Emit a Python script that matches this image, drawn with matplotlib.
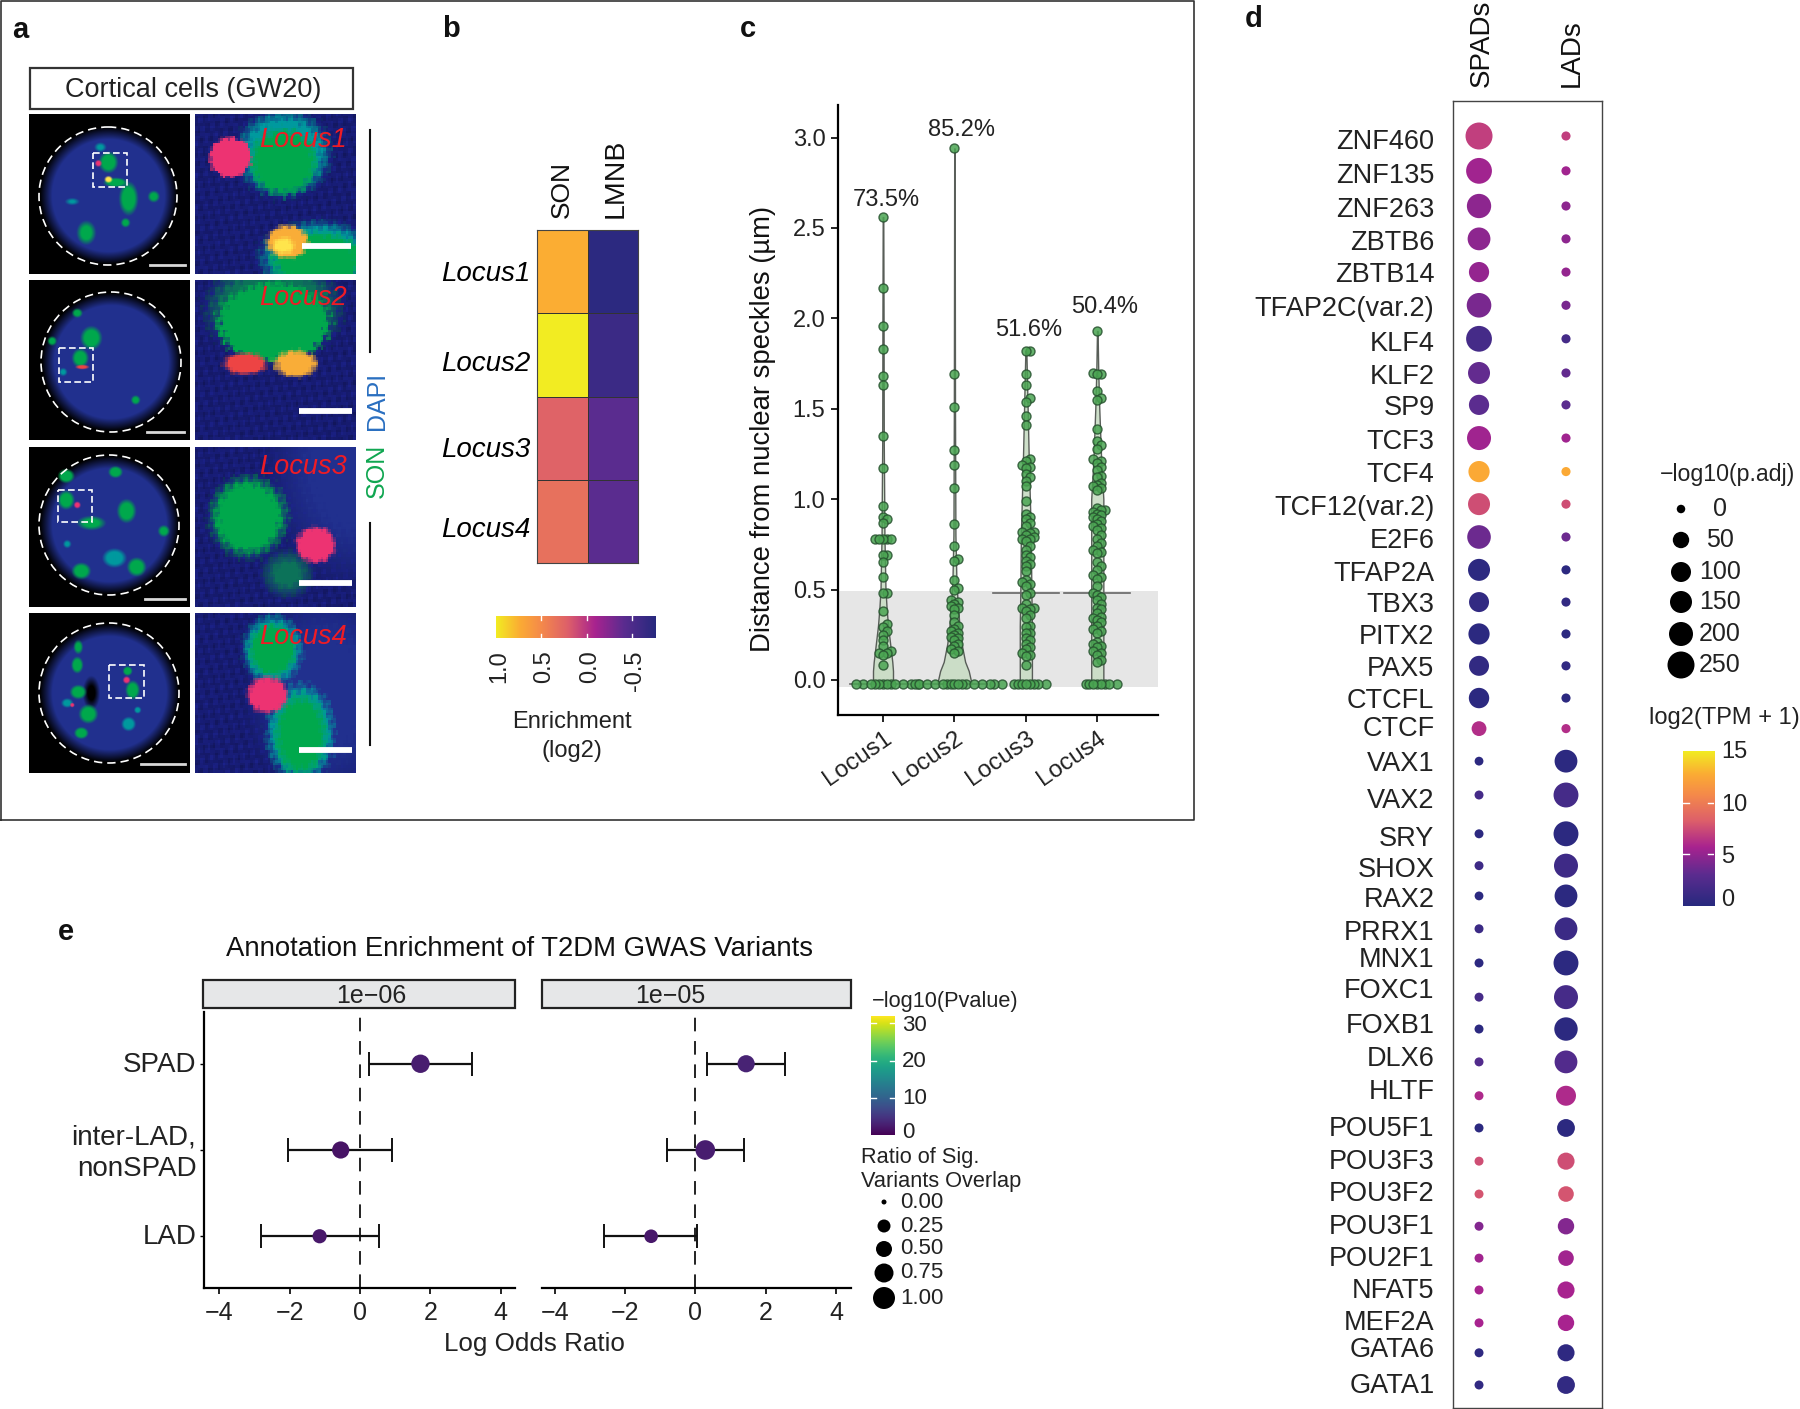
import numpy as np
import matplotlib
matplotlib.use('Agg')
import matplotlib.pyplot as plt
from matplotlib.colors import LinearSegmentedColormap
from matplotlib.patches import Circle, Rectangle
from matplotlib.transforms import ScaledTranslation

plt.rcParams['font.family'] = ['Liberation Sans', 'DejaVu Sans']
plt.rcParams['axes.unicode_minus'] = True

W, H = 1800, 1409

# --- panel b ---
loci = ['Locus1', 'Locus2', 'Locus3', 'Locus4']
son_enrich = [0.74, 1.00, 0.23, 0.33]
lmnb_enrich = [-0.72, -0.62, -0.41, -0.41]
enrich_ticks = [1.0, 0.5, 0.0, -0.5]
locus_label_rows = [0.49, 1.57, 2.61, 3.57]

# --- panel c ---
pct_labels = ['73.5%', '85.2%', '51.6%', '50.4%']
pct_heights = [2.655, 3.04, 1.935, 2.06]
pct_nudge = [0.04, 0.10, 0.04, 0.10]
medians = [-0.02, -0.02, 0.48, 0.48]
dist1 = [2.56, 2.17, 1.96, 1.83, 1.68, 1.63, 1.35, 1.17, 0.96, 0.90, 0.89, 0.87, 0.78, 0.78, 0.78, 0.78, 0.78,
         0.69, 0.69, 0.65, 0.57, 0.48, 0.48, 0.38, 0.31, 0.29, 0.27, 0.25, 0.22, 0.19, 0.16, 0.15, 0.15, 0.14, 0.08] + [-0.02] * 12
dist2 = [2.94, 1.69, 1.51, 1.27, 1.19, 1.06, 0.86, 0.74, 0.67, 0.66, 0.55, 0.51, 0.50, 0.44, 0.43, 0.42, 0.41,
         0.40, 0.39, 0.36, 0.32, 0.30, 0.28, 0.27, 0.26, 0.25, 0.24, 0.23, 0.22, 0.20, 0.19, 0.17, 0.16, 0.15] + [-0.02] * 16
dist3 = [1.82, 1.82, 1.69, 1.63, 1.56, 1.54, 1.46, 1.41, 1.22, 1.21, 1.19, 1.18, 1.17, 1.14, 1.12, 1.10, 1.07, 0.99,
         0.92, 0.90, 0.89, 0.87, 0.85, 0.82, 0.82, 0.81, 0.80, 0.79, 0.78, 0.78, 0.77, 0.74, 0.72, 0.69, 0.68, 0.66,
         0.64, 0.63, 0.60, 0.55, 0.54, 0.53, 0.52, 0.48, 0.47, 0.42, 0.40, 0.40, 0.39, 0.38, 0.36, 0.34, 0.30, 0.29,
         0.26, 0.26, 0.23, 0.22, 0.20, 0.18, 0.17, 0.15, 0.14, 0.13, 0.08] + [-0.02] * 8
dist4 = [1.93, 1.70, 1.69, 1.69, 1.60, 1.56, 1.55, 1.39, 1.32, 1.30, 1.28, 1.22, 1.21, 1.20, 1.18, 1.16, 1.13, 1.12,
         1.09, 1.08, 1.07, 1.06, 1.05, 0.95, 0.94, 0.94, 0.93, 0.92, 0.91, 0.90, 0.89, 0.88, 0.86, 0.85, 0.84, 0.83,
         0.80, 0.78, 0.76, 0.74, 0.72, 0.71, 0.70, 0.65, 0.63, 0.61, 0.58, 0.57, 0.56, 0.52, 0.48, 0.47, 0.46, 0.44,
         0.42, 0.40, 0.39, 0.37, 0.35, 0.34, 0.33, 0.32, 0.30, 0.28, 0.27, 0.26, 0.21, 0.20, 0.19, 0.18, 0.16, 0.15,
         0.14, 0.11, 0.10] + [-0.02] * 8
vio1_y = [-0.02, 0.05, 0.1, 0.2, 0.3, 0.4, 0.5, 0.8, 1.0, 1.3, 2.0, 2.56]
vio1_w = [0.14, 0.14, 0.13, 0.10, 0.07, 0.05, 0.035, 0.02, 0.017, 0.011, 0.008, 0.004]
vio2_y = [-0.02, 0.05, 0.1, 0.2, 0.3, 0.45, 0.55, 0.8, 1.5, 2.94]
vio2_w = [0.24, 0.20, 0.15, 0.10, 0.07, 0.042, 0.028, 0.014, 0.008, 0.003]
vio3_y = [-0.02, 0.1, 0.3, 0.5, 0.8, 1.0, 1.2, 1.5, 1.82]
vio3_w = [0.085, 0.085, 0.085, 0.077, 0.07, 0.056, 0.042, 0.025, 0.007]
vio4_y = [-0.02, 0.1, 0.3, 0.5, 0.8, 1.0, 1.2, 1.5, 1.7, 1.93]
vio4_w = [0.085, 0.085, 0.085, 0.085, 0.085, 0.085, 0.056, 0.028, 0.014, 0.004]

# --- panel d ---
tfs = ['ZNF460', 'ZNF135', 'ZNF263', 'ZBTB6', 'ZBTB14', 'TFAP2C(var.2)', 'KLF4', 'KLF2', 'SP9', 'TCF3', 'TCF4',
       'TCF12(var.2)', 'E2F6', 'TFAP2A', 'TBX3', 'PITX2', 'PAX5', 'CTCFL', 'CTCF', 'VAX1', 'VAX2', 'SRY', 'SHOX',
       'RAX2', 'PRRX1', 'MNX1', 'FOXC1', 'FOXB1', 'DLX6', 'HLTF', 'POU5F1', 'POU3F3', 'POU3F2', 'POU3F1', 'POU2F1',
       'NFAT5', 'MEF2A', 'GATA6', 'GATA1']
# the rows in the reference are not evenly spaced, dots and labels drift apart
dot_rows = [0, 1.06, 2.13, 3.13, 4.14, 5.15, 6.17, 7.21, 8.18, 9.19, 10.21, 11.2, 12.2, 13.2, 14.18, 15.15, 16.12,
            17.1, 18.03, 19.02, 20.05, 21.23, 22.2, 23.12, 24.12, 25.16, 26.2, 27.17, 28.17, 29.2, 30.18, 31.19,
            32.19, 33.17, 34.14, 35.11, 36.11, 37.02, 38.0]
label_rows = [0.09, 1.13, 2.16, 3.16, 4.14, 5.17, 6.24, 7.24, 8.18, 9.22, 10.22, 11.23, 12.23, 13.23, 14.18, 15.15,
              16.12, 17.1, 17.95, 19.03, 20.14, 21.3, 22.24, 23.15, 24.16, 24.98, 25.92, 26.98, 27.99, 28.99, 30.12,
              31.12, 32.1, 33.1, 34.07, 35.05, 36.02, 36.84, 37.94]
tpm = [6.9, 5.5, 4.8, 4.8, 5.0, 4.1, 1.7, 3.3, 3.0, 5.4, 12.6, 7.5, 3.6, 0.3, 0.7, 0.3, 0.7, 0.3, 6.2, 0.3, 1.7,
       0.3, 1.4, 0.3, 1.2, 0.3, 1.8, 0.3, 2.5, 6.0, 0.3, 7.5, 7.8, 4.4, 5.5, 5.7, 5.7, 0.5, 0.7]
padj_spads = [250, 230, 205, 170, 105, 210, 230, 150, 105, 200, 130, 150, 190, 150, 100, 130, 100, 110, 40,
              2, 3, 3, 3, 2, 3, 3, 3, 3, 3, 3, 3, 3, 3, 3, 3, 3, 3, 3, 3]
padj_lads = [4, 4, 4, 4, 4, 4, 4, 4, 4, 4, 4, 4, 4, 4, 4, 4, 4, 4, 4,
             170, 215, 215, 200, 170, 170, 215, 200, 185, 170, 100, 70, 60, 45, 50, 45, 60, 50, 60, 70]
padj_levels = [0, 50, 100, 150, 200, 250]
padj_diam = [8.5, 16.4, 20, 22, 24, 27]
tpm_ticks = [0, 5, 10, 15]

# --- panel e ---
annots = ['LAD', 'inter-LAD,\nnonSPAD', 'SPAD']
or_est_6 = [-1.15, -0.55, 1.72]
or_lo_6 = [-2.83, -2.04, 0.26]
or_hi_6 = [0.54, 0.91, 3.19]
ratio_6 = [0.35, 0.60, 0.70]
pval_6 = [2.0, 1.5, 2.5]
or_est_5 = [-1.26, 0.28, 1.44]
or_lo_5 = [-2.59, -0.81, 0.33]
or_hi_5 = [0.05, 1.37, 2.55]
ratio_5 = [0.30, 0.80, 0.60]
pval_5 = [2.0, 2.5, 3.0]
ratio_levels = [0.0, 0.25, 0.5, 0.75, 1.0]
ratio_diam = [5, 13, 16, 19, 22]
pval_ticks = [0, 10, 20, 30]

tpm_cmap = LinearSegmentedColormap.from_list('tpm', [
    (0.0, '#27297e'), (0.2, '#5b2c8f'), (0.38, '#a8238f'), (0.55, '#dd5f6a'),
    (0.72, '#f58a4a'), (0.85, '#fbab34'), (1.0, '#f2ec22')])

fig = plt.figure(figsize=(W / 100, H / 100), dpi=100, facecolor='white')


def px_axes(x0, y0, x1, y1, **kw):
    return fig.add_axes([x0 / W, 1 - y1 / H, (x1 - x0) / W, (y1 - y0) / H], **kw)


def diam_to_s(d):
    # px diameter to scatter area at dpi 100
    return (np.asarray(d) * 0.72) ** 2


def nudge_label(label, dx=0, dy=0):
    # shift a tick label by some px
    label.set_transform(label.get_transform() + ScaledTranslation(dx / 100, dy / 100, fig.dpi_scale_trans))


ov = px_axes(0, 0, W, H, zorder=10)
ov.set_xlim(0, W)
ov.set_ylim(H, 0)
ov.axis('off')
ov.patch.set_alpha(0)

for letter, lx, ly in [('a', 20, 30), ('b', 451, 29), ('c', 748, 29), ('d', 1254, 19), ('e', 66, 932)]:
    ov.text(lx, ly, letter, fontsize=21, fontweight='bold', ha='center', va='center', color='#111111')

# --- Panel a: microscopy panels, painted as soft blobs ---
ov.plot([1, 1, 1194, 1194, 1], [820, 0.5, 0.5, 820, 820], color='#333333', lw=1.2)
ov.add_patch(Rectangle((30, 68), 323, 41, fc='white', ec='#333333', lw=1.6))
ov.text(193, 90, 'Cortical cells (GW20)', fontsize=19.5, ha='center', va='center', color='#222222')

GREEN = (0.0, 0.66, 0.30)
TEAL = (0.0, 0.60, 0.62)
PINK = (0.93, 0.20, 0.45)
ORANGE = (0.98, 0.68, 0.22)
YELLOW = (1.0, 0.9, 0.3)
RED = (0.93, 0.27, 0.27)
BLUE = (0.13, 0.19, 0.56)
NAVY = (0.09, 0.11, 0.45)


def paint(res, base, blobs, rough=0.0):
    c = (np.arange(res) + 0.5) * 160 / res
    xx, yy = np.meshgrid(c, c)
    # ripple only roughens blob edges and mottles the stain, it is picture texture
    ripple = np.sin(xx * 1.7 + yy * 0.6) * np.sin(yy * 2.3 - xx * 0.9) + 0.6 * np.sin(xx * 3.1 - yy * 2.7)
    img = np.ones((res, res, 3)) * np.array(base) * (1 + 0.18 * rough * ripple[..., None] / 0.1)
    for cx, cy, rx, ry, col, soft in blobs:
        d = np.sqrt(((xx - cx) / rx) ** 2 + ((yy - cy) / ry) ** 2) + rough * ripple
        a = np.clip((1 - d) / soft, 0, 1)[..., None]
        img = img * (1 - a) + np.array(col) * a
    return np.clip(img, 0, 1)


def cell_panel(x0, y0, blobs, circ, box, bar):
    ax = px_axes(x0, y0, x0 + 160, y0 + 160)
    nucleus = [(circ[0], circ[1], circ[2], circ[2], BLUE, 0.18)]
    grown = [(b[0], b[1], b[2] * 1.25, b[3] * 1.25, b[4], b[5]) for b in blobs]
    ax.imshow(paint(320, (0, 0, 0), nucleus + grown), extent=(0, 160, 160, 0), aspect='auto')
    ax.add_patch(Circle(circ[:2], circ[2] + 1, fill=False, ec='white', lw=1.2, ls=(0, (5, 3))))
    ax.add_patch(Rectangle(box[:2], box[2], box[3], fill=False, ec='white', lw=1.2, ls=(0, (4, 2))))
    ax.plot(bar[:2], [bar[2], bar[2]], color='#d8d8d8', lw=2)
    ax.set_xlim(0, 160)
    ax.set_ylim(160, 0)
    ax.axis('off')


def zoom_panel(x0, y0, blobs, name, name_y, bar):
    ax = px_axes(x0, y0, x0 + 160, y0 + 160)
    ax.imshow(paint(64, NAVY, blobs, rough=0.07), extent=(0, 160, 160, 0), aspect='auto', interpolation='nearest')
    ax.plot(bar[:2], [bar[2], bar[2]], color='white', lw=4.2, solid_capstyle='butt')
    ax.text(152, name_y, name, color='#ee1c25', style='italic', fontsize=19.5, ha='right', va='center')
    ax.set_xlim(0, 160)
    ax.set_ylim(160, 0)
    ax.axis('off')


cell_panel(29, 114, [
    (71, 34, 5, 4, TEAL, 0.6), (43, 88, 6, 3, TEAL, 0.7), (79, 49, 8, 9, GREEN, 0.4), (99, 85, 8, 14, GREEN, 0.4),
    (86, 69, 10, 4, GREEN, 0.4), (124, 83, 5, 5, GREEN, 0.5), (96, 109, 4, 4, GREEN, 0.5), (57, 119, 8, 10, GREEN, 0.5),
    (69, 50, 3, 3, PINK, 0.5), (79, 66, 3.5, 3, YELLOW, 0.5)],
    (79, 82, 68), (64, 39, 34, 34), (121, 156, 151))
cell_panel(29, 280, [
    (34, 92, 3.5, 3.5, TEAL, 0.6), (62, 58, 9, 10, GREEN, 0.4), (48, 33, 4.5, 4, GREEN, 0.5), (23, 61, 4, 4, GREEN, 0.5),
    (51, 78, 7, 8, GREEN, 0.4), (106, 120, 4, 4, GREEN, 0.5), (53, 87, 6, 2, RED, 0.5)],
    (82, 82, 69), (30, 68, 34, 34), (118, 155, 152))
cell_panel(29, 447, [
    (85, 111, 10, 8, TEAL, 0.4), (38, 97, 3.5, 3.5, TEAL, 0.6), (37, 29, 7, 6, GREEN, 0.4), (86, 25, 6, 5, GREEN, 0.4),
    (37, 53, 7, 8, GREEN, 0.4), (97, 64, 8, 10, GREEN, 0.4), (62, 76, 12, 6, GREEN, 0.5), (134, 84, 5, 5, GREEN, 0.5),
    (52, 124, 8, 7, GREEN, 0.4), (107, 120, 8, 8, GREEN, 0.4), (48, 58, 3, 3, PINK, 0.5)],
    (80, 78, 69), (29, 43, 34, 32), (116, 156, 152))
cell_panel(29, 613, [
    (62, 80, 7, 14, (0, 0, 0), 0.6), (99, 111, 6, 6, TEAL, 0.4), (38, 90, 5, 4, TEAL, 0.5), (108, 97, 3, 3, TEAL, 0.5),
    (49, 34, 4, 6, GREEN, 0.5), (48, 52, 5, 7, GREEN, 0.4), (49, 79, 7, 6, GREEN, 0.4), (59, 101, 8, 8, GREEN, 0.4),
    (52, 120, 6, 5, GREEN, 0.4), (103, 77, 6, 8, GREEN, 0.4), (98, 58, 4, 4, GREEN, 0.4), (97, 67, 3.2, 3.2, PINK, 0.5),
    (43, 92, 2, 2, PINK, 0.5)],
    (80, 80, 69), (80, 52, 35, 33), (112, 156, 151))

zoom_panel(195, 114, [
    (88, 40, 50, 46, TEAL, 0.3), (88, 49, 36, 36, GREEN, 0.25), (122, 143, 62, 38, TEAL, 0.3), (122, 146, 50, 30, GREEN, 0.25),
    (35, 44, 22, 21, PINK, 0.12), (92, 128, 22, 18, ORANGE, 0.2), (88, 132, 13, 10, YELLOW, 0.5)],
    'Locus1', 26, (107, 156, 132))
zoom_panel(195, 280, [
    (78, 30, 72, 52, (0.05, 0.45, 0.35), 0.3), (78, 43, 58, 42, GREEN, 0.12), (50, 84, 24, 12, RED, 0.3),
    (100, 84, 24, 15, ORANGE, 0.3)],
    'Locus2', 18, (104, 157, 131))
zoom_panel(195, 447, [
    (160, 20, 90, 120, BLUE, 0.5), (92, 127, 28, 26, (0.05, 0.45, 0.35), 0.6), (53, 70, 42, 44, GREEN, 0.3),
    (120, 98, 22, 20, PINK, 0.25)],
    'Locus3', 20, (104, 157, 136))
zoom_panel(195, 613, [
    (130, 80, 80, 110, BLUE, 0.5), (77, 37, 32, 38, TEAL, 0.3), (77, 37, 25, 28, GREEN, 0.25), (105, 120, 36, 52, TEAL, 0.25),
    (105, 122, 28, 44, GREEN, 0.3), (72, 82, 22, 20, PINK, 0.25)],
    'Locus4', 24, (104, 157, 137))

ov.plot([370, 370], [130, 352], color='#111111', lw=1.5)
ov.plot([370, 370], [523, 745], color='#111111', lw=1.5)
ov.text(377, 401, 'DAPI', color='#2a6fc0', rotation=90, fontsize=18, ha='center', va='center')
ov.text(377, 471, 'SON', color='#0fa650', rotation=90, fontsize=18, ha='center', va='center')

# --- Panel b: enrichment heatmap ---
ax_b = px_axes(537, 230, 638, 563)
enrich = np.array([son_enrich, lmnb_enrich]).T
ax_b.pcolormesh(enrich, cmap=tpm_cmap, vmin=-0.76, vmax=1.0, edgecolors='#333333', linewidth=0.5)
ax_b.set_ylim(4, 0)
ax_b.set_xticks([])
ax_b.set_yticks(locus_label_rows, loci, style='italic', fontsize=20)
ax_b.tick_params(length=0, pad=5)
for s in ax_b.spines.values():
    s.set_linewidth(0.8)
    s.set_color('#444444')
ov.text(562, 218, 'SON', rotation=90, fontsize=19, ha='center', va='bottom', color='#111111')
ov.text(616, 218, 'LMNB', rotation=90, fontsize=20.5, ha='center', va='bottom', color='#111111')

cb_b = px_axes(496, 616, 656, 638)
cb_b.imshow(np.linspace(1.0, -0.76, 256)[None, :], cmap=tpm_cmap, vmin=-0.76, vmax=1.0,
            extent=(1.0, -0.76, 0, 1), aspect='auto')
cb_b.set_xlim(1.0, -0.76)
cb_b.set_yticks([])
cb_b.set_xticks(enrich_ticks, [f'{t:.1f}' for t in enrich_ticks], rotation=90, fontsize=17, color='#222222')
cb_b.tick_params(axis='x', length=0, pad=9)
for lab in cb_b.get_xticklabels():
    nudge_label(lab, dx=3)
for t in enrich_ticks[1:]:
    cb_b.plot([t, t], [0, 0.18], color='white', lw=1)
    cb_b.plot([t, t], [0.82, 1], color='white', lw=1)
cb_b.set_ylim(0, 1)
for s in cb_b.spines.values():
    s.set_visible(False)
ov.text(572, 722, 'Enrichment', fontsize=17, ha='center', va='center', color='#222222')
ov.text(572, 751, '(log2)', fontsize=17, ha='center', va='center', color='#222222')


# --- Panel c: distance violins with dots ---
def swarm(vals, step=0.055, yscale=2.53):
    placed = []
    offs = np.zeros(len(vals))
    for i in np.argsort(vals):
        k = 0
        while True:
            # try 0, +1, -1, +2 ...
            x = ((k + 1) // 2) * step * (1 if k % 2 else -1)
            if all((x - px) ** 2 + ((vals[i] - py) * yscale) ** 2 >= step ** 2 for px, py in placed):
                break
            k += 1
        placed.append((x, vals[i]))
        offs[i] = x
    return offs


ax_c = px_axes(838, 105, 1158, 715)
ax_c.set_xlim(-0.63, 3.85)
ax_c.set_ylim(-0.194, 3.18)
ax_c.axhspan(-0.04, 0.49, color='#e6e6e6', lw=0, zorder=0)
violins = [(vio1_y, vio1_w), (vio2_y, vio2_w), (vio3_y, vio3_w), (vio4_y, vio4_w)]
dists = [dist1, dist2, dist3, dist4]
for i, ((vy, vw), d) in enumerate(zip(violins, dists)):
    vy, vw = np.array(vy), np.array(vw)
    ax_c.fill_betweenx(vy, i - vw, i + vw, facecolor='#c8dcc4', edgecolor='#4a4f4a', lw=1.0, alpha=0.9, zorder=1)
    ax_c.plot([i - 0.46, i + 0.46], [medians[i], medians[i]], color='#666666', lw=1.2, zorder=2)
    d = np.array(d)
    ax_c.scatter(i + swarm(d), d, s=diam_to_s(9), facecolor='#4aa552', edgecolor='#27522f', lw=1.0, alpha=0.85, zorder=3)
    ax_c.text(i + pct_nudge[i], pct_heights[i], pct_labels[i], fontsize=17, ha='center', va='center', color='#222222')
ax_c.set_yticks([0, 0.5, 1, 1.5, 2, 2.5, 3], ['0.0', '0.5', '1.0', '1.5', '2.0', '2.5', '3.0'], fontsize=17, color='#222222')
ax_c.set_xticks(range(4), loci, rotation=35, ha='right', rotation_mode='anchor', fontsize=17.5, color='#222222')
ax_c.set_ylabel('Distance from nuclear speckles (µm)', fontsize=19.8, color='#111111', labelpad=12, y=0.469)
ax_c.tick_params(length=5, width=1.2, pad=4)
ax_c.spines[['top', 'right']].set_visible(False)
ax_c.spines[['left', 'bottom']].set_linewidth(1.6)
ax_c.patch.set_alpha(0)


def padj_d(v):
    return np.interp(v, padj_levels, padj_diam)


# --- Panel d: TF dot plot ---
ax_d = px_axes(1452.5, 101, 1602, 1408)
ax_d.set_xlim(-0.305, 1.414)
ax_d.set_ylim(38.7, -1.065)
ax_d.scatter([0] * len(tfs), dot_rows, s=diam_to_s(padj_d(padj_spads)), c=tpm, cmap=tpm_cmap, vmin=0, vmax=15, lw=0)
ax_d.scatter([1] * len(tfs), dot_rows, s=diam_to_s(padj_d(padj_lads)), c=tpm, cmap=tpm_cmap, vmin=0, vmax=15, lw=0)
ax_d.set_yticks(label_rows, tfs, fontsize=19.5, color='#222222')
ax_d.set_xticks([])
ax_d.tick_params(length=0, pad=13)
for s in ax_d.spines.values():
    s.set_linewidth(1.0)
    s.set_color('#444444')
ov.text(1482, 87, 'SPADs', rotation=90, fontsize=20, ha='center', va='bottom', color='#111111')
ov.text(1572, 87, 'LADs', rotation=90, fontsize=20, ha='center', va='bottom', color='#111111')

ov.text(1727, 474, '−log10(p.adj)', fontsize=16.7, ha='center', va='center', color='#222222')
padj_ys = [509, 540, 572, 602, 634, 665]
ov.scatter([1681] * 6, padj_ys, s=diam_to_s(padj_diam), c='black', lw=0)
for lv, ly in zip(padj_levels, padj_ys):
    ov.text(1720, ly, str(lv), fontsize=18, ha='center', va='center', color='#222222')

ov.text(1724, 718, 'log2(TPM + 1)', fontsize=17, ha='center', va='center', color='#222222')
cb_d = px_axes(1683, 751, 1714, 906)
cb_d.imshow(np.linspace(15, 0, 256)[:, None], cmap=tpm_cmap, vmin=0, vmax=15, extent=(0, 1, 0, 15), aspect='auto')
for t in tpm_ticks[1:3]:
    cb_d.plot([0, 0.2], [t, t], color='white', lw=1)
    cb_d.plot([0.8, 1], [t, t], color='white', lw=1)
cb_d.set_xlim(0, 1)
cb_d.set_ylim(0, 15)
cb_d.set_xticks([])
cb_d.yaxis.tick_right()
cb_d.set_yticks(tpm_ticks, tpm_ticks, fontsize=17, color='#222222')
cb_d.tick_params(length=0, pad=5)
nudge_label(cb_d.get_yticklabels()[0], dy=8)
nudge_label(cb_d.get_yticklabels()[3], dy=2)
for s in cb_d.spines.values():
    s.set_visible(False)


# --- Panel e: T2DM GWAS forest plots ---
def ratio_d(v):
    return np.interp(v, ratio_levels, ratio_diam)


def forest(ax, est, lo, hi, ratio, pval, xlim):
    ax.set_xlim(*xlim)
    ax.set_ylim(-0.6, 2.6)
    ax.axvline(0, color='#222222', lw=1.4, ls=(0, (7, 5)), zorder=1)
    y = np.arange(3)
    est, lo, hi = np.array(est), np.array(lo), np.array(hi)
    ax.errorbar(est, y, xerr=[est - lo, hi - est], fmt='none', ecolor='#111111', elinewidth=1.6, capsize=8.5,
                capthick=1.4, zorder=2)
    ax.scatter(est, y, s=diam_to_s(ratio_d(ratio)), c=pval, cmap='viridis', vmin=0, vmax=32, lw=0, zorder=3)
    ax.set_xticks([-4, -2, 0, 2, 4], ['−4', '−2', '0', '2', '4'], fontsize=18, color='#222222')
    ax.tick_params(axis='x', length=4, width=1.2, pad=5)
    ax.spines[['top', 'right']].set_visible(False)
    ax.spines[['left', 'bottom']].set_linewidth(1.6)


ax_e1 = px_axes(204, 1012, 515, 1288)
forest(ax_e1, or_est_6, or_lo_6, or_hi_6, ratio_6, pval_6, (-4.44, 4.41))
ax_e1.set_yticks(range(3), annots, fontsize=20, color='#222222', linespacing=1.25)
ax_e1.tick_params(axis='y', length=3, width=1, pad=2.5)
for lab in ax_e1.get_yticklabels():
    nudge_label(lab, dy=2)

ax_e2 = px_axes(542, 1012, 851, 1288)
forest(ax_e2, or_est_5, or_lo_5, or_hi_5, ratio_5, pval_5, (-4.36, 4.42))
ax_e2.set_yticks([])
ax_e2.spines['left'].set_visible(False)

for x0, x1, xc, lab in [(203, 515, 371, '1e−06'), (542, 851, 670, '1e−05')]:
    ov.add_patch(Rectangle((x0, 980), x1 - x0, 28, fc='#e6e7e8', ec='#222222', lw=1.6))
    ov.text(xc, 996, lab, fontsize=18, ha='center', va='center', color='#222222')

ov.text(519, 949, 'Annotation Enrichment of T2DM GWAS Variants', fontsize=19.8, ha='center', va='center', color='#111111')
ov.text(534, 1344, 'Log Odds Ratio', fontsize=18.7, ha='center', va='center', color='#222222')

ov.text(872, 1001, '−log10(Pvalue)', fontsize=15.7, ha='left', va='center', color='#222222')
cb_e = px_axes(871, 1016, 895, 1135)
cb_e.imshow(np.linspace(32, 0, 256)[:, None], cmap='viridis', vmin=0, vmax=32, extent=(0, 1, 0, 32), aspect='auto')
for t in pval_ticks[1:]:
    cb_e.plot([0, 0.2], [t, t], color='white', lw=1)
    cb_e.plot([0.8, 1], [t, t], color='white', lw=1)
cb_e.set_xlim(0, 1)
cb_e.set_ylim(0, 32)
cb_e.set_xticks([])
cb_e.yaxis.tick_right()
cb_e.set_yticks(pval_ticks, pval_ticks, fontsize=16, color='#222222')
cb_e.tick_params(length=0, pad=5)
nudge_label(cb_e.get_yticklabels()[0], dy=5)
nudge_label(cb_e.get_yticklabels()[1], dy=2)
nudge_label(cb_e.get_yticklabels()[2], dy=2)
for s in cb_e.spines.values():
    s.set_visible(False)

ov.text(861, 1157, 'Ratio of Sig.', fontsize=15.7, ha='left', va='center', color='#222222')
ov.text(861, 1182, 'Variants Overlap', fontsize=15.7, ha='left', va='center', color='#222222')
ratio_ys = [1202, 1226, 1249, 1273, 1298]
ov.scatter([884] * 5, ratio_ys, s=diam_to_s(ratio_diam), c='black', lw=0)
for lv, ly in zip(ratio_levels, ratio_ys):
    ov.text(900, ly, f'{lv:.2f}', fontsize=16, ha='left', va='center', color='#222222')

fig.savefig('out.png', dpi=100)
